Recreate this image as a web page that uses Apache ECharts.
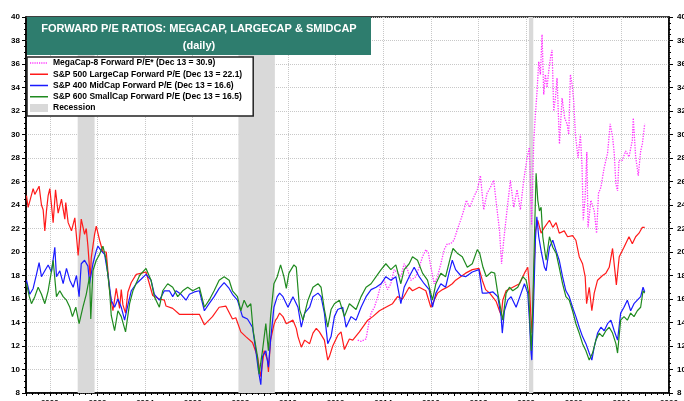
<!DOCTYPE html>
<html>
<head>
<meta charset="utf-8">
<script src="https://cdn.jsdelivr.net/npm/echarts@6/dist/echarts.min.js"></script>
<style>
  html, body { margin: 0; padding: 0; background: #fff; }
  #chart { width: 684px; height: 401px; }
</style>
</head>
<body>
<div id="chart"></div>
<script>
// [year, forward P/E]
const megacap = [
  [2012.93, 12.5], [2013.07, 12.4], [2013.28, 12.6], [2013.39, 13.9], [2013.49, 14.8], [2013.63, 15.3],
  [2013.77, 16.2], [2013.91, 17.3], [2014.04, 17.6], [2014.18, 16.8], [2014.32, 17.3], [2014.46, 18.5],
  [2014.60, 18.2], [2014.74, 17.9], [2014.88, 19.0], [2015.02, 18.5], [2015.16, 17.6], [2015.37, 17.9],
  [2015.51, 18.7], [2015.65, 19.6], [2015.79, 20.2], [2015.90, 19.9], [2016.00, 18.7], [2016.14, 17.3],
  [2016.28, 17.9], [2016.42, 19.0], [2016.56, 20.2], [2016.69, 20.7], [2016.83, 20.7], [2016.97, 21.0],
  [2017.11, 21.9], [2017.25, 22.7], [2017.39, 23.6], [2017.49, 24.4], [2017.63, 23.8], [2017.81, 24.7],
  [2017.95, 25.3], [2018.08, 26.5], [2018.22, 23.6], [2018.36, 25.0], [2018.50, 25.5], [2018.64, 26.1],
  [2018.78, 23.6], [2018.88, 21.9], [2018.97, 19.0], [2019.06, 21.0], [2019.20, 23.6], [2019.34, 26.1],
  [2019.48, 23.8], [2019.62, 25.3], [2019.76, 23.6], [2019.90, 26.1], [2020.04, 28.0], [2020.14, 28.9],
  [2020.23, 22.3], [2020.32, 29.4], [2020.39, 31.7], [2020.46, 33.7], [2020.53, 36.2], [2020.60, 35.1],
  [2020.67, 38.5], [2020.74, 33.4], [2020.81, 35.1], [2020.88, 34.0], [2020.95, 35.4], [2021.02, 36.5],
  [2021.09, 37.2], [2021.16, 32.0], [2021.23, 33.1], [2021.30, 34.8], [2021.40, 29.2], [2021.51, 33.1],
  [2021.62, 31.4], [2021.72, 30.9], [2021.79, 30.0], [2021.86, 35.1], [2021.93, 34.3], [2022.00, 32.8],
  [2022.07, 30.0], [2022.18, 28.0], [2022.28, 30.0], [2022.35, 27.2], [2022.40, 22.7], [2022.48, 24.7],
  [2022.55, 28.5], [2022.60, 22.1], [2022.72, 24.4], [2022.86, 23.5], [2022.96, 21.6], [2023.04, 25.0],
  [2023.14, 25.5], [2023.28, 27.2], [2023.42, 28.4], [2023.53, 30.9], [2023.63, 29.8], [2023.70, 28.4],
  [2023.77, 25.8], [2023.84, 25.2], [2023.90, 27.8], [2024.04, 27.8], [2024.18, 28.6], [2024.32, 28.1],
  [2024.46, 29.5], [2024.50, 31.4], [2024.60, 28.1], [2024.71, 26.5], [2024.81, 28.6], [2024.88, 29.2],
  [2024.98, 30.9]
];

const sp500 = [
  [1999.02, 24.8], [1999.09, 23.8], [1999.16, 23.9], [1999.30, 25.4], [1999.37, 24.9], [1999.44, 25.0],
  [1999.55, 25.6], [1999.65, 24.0], [1999.72, 23.6], [1999.79, 21.8], [1999.86, 23.5], [1999.93, 24.8],
  [2000.00, 25.4], [2000.07, 24.0], [2000.14, 22.5], [2000.24, 25.3], [2000.35, 23.3], [2000.49, 24.5],
  [2000.63, 22.8], [2000.67, 24.2], [2000.77, 22.5], [2000.91, 21.8], [2000.98, 21.8], [2001.05, 22.9],
  [2001.19, 19.7], [2001.32, 22.8], [2001.46, 21.5], [2001.53, 22.0], [2001.60, 20.5], [2001.70, 17.7],
  [2001.74, 19.5], [2001.88, 21.5], [2001.95, 22.2], [2002.09, 21.0], [2002.23, 20.0], [2002.37, 20.0],
  [2002.51, 16.7], [2002.65, 15.0], [2002.79, 16.9], [2002.93, 15.2], [2003.00, 16.8], [2003.07, 15.5],
  [2003.18, 14.8], [2003.28, 16.6], [2003.42, 17.4], [2003.63, 18.1], [2004.04, 18.3], [2004.32, 16.3],
  [2004.60, 16.0], [2004.81, 15.9], [2004.88, 15.4], [2005.16, 15.2], [2005.44, 14.7], [2006.00, 14.7],
  [2006.28, 14.7], [2006.49, 13.8], [2006.83, 14.5], [2007.11, 15.3], [2007.39, 15.4], [2007.67, 14.3],
  [2007.81, 14.4], [2008.02, 13.2], [2008.23, 12.8], [2008.51, 12.3], [2008.72, 11.1], [2008.79, 10.2],
  [2008.86, 9.4], [2008.93, 10.5], [2009.00, 11.6], [2009.14, 10.8], [2009.18, 9.8], [2009.27, 12.5],
  [2009.41, 13.8], [2009.48, 14.2], [2009.55, 14.4], [2009.65, 14.8], [2009.79, 14.5], [2009.93, 13.9],
  [2010.21, 14.2], [2010.35, 13.5], [2010.42, 12.8], [2010.56, 11.9], [2010.70, 12.5], [2010.91, 12.2],
  [2011.05, 13.1], [2011.19, 13.5], [2011.32, 13.2], [2011.53, 12.5], [2011.67, 10.8], [2011.74, 11.1],
  [2011.88, 12.0], [2012.09, 12.9], [2012.23, 13.2], [2012.37, 11.7], [2012.58, 12.6], [2012.72, 12.5],
  [2013.00, 13.2], [2013.35, 14.2], [2013.56, 14.5], [2013.84, 15.0], [2014.11, 15.3], [2014.39, 15.6],
  [2014.60, 16.2], [2014.81, 16.0], [2015.09, 17.0], [2015.23, 16.7], [2015.51, 17.0], [2015.79, 16.7],
  [2016.00, 15.3], [2016.14, 15.9], [2016.28, 16.5], [2016.49, 16.8], [2016.69, 17.0], [2016.90, 17.3],
  [2017.04, 17.6], [2017.25, 17.9], [2017.46, 18.2], [2017.74, 18.5], [2018.02, 18.6], [2018.16, 17.6],
  [2018.30, 16.8], [2018.47, 16.5], [2018.74, 15.8], [2018.88, 15.0], [2018.96, 14.6], [2019.02, 15.9],
  [2019.16, 16.7], [2019.44, 17.0], [2019.72, 17.3], [2019.93, 18.2], [2020.07, 18.7], [2020.14, 17.0],
  [2020.21, 14.2], [2020.25, 13.1], [2020.31, 17.0], [2020.39, 21.8], [2020.49, 22.7], [2020.63, 21.6],
  [2020.77, 22.1], [2020.98, 22.7], [2021.12, 22.1], [2021.26, 22.5], [2021.39, 21.6], [2021.60, 21.8],
  [2021.74, 21.3], [2021.95, 21.4], [2022.09, 21.0], [2022.23, 19.6], [2022.37, 19.0], [2022.48, 17.9],
  [2022.54, 15.6], [2022.65, 17.0], [2022.76, 15.0], [2022.86, 16.5], [2023.00, 17.6], [2023.21, 18.0],
  [2023.35, 18.2], [2023.49, 18.7], [2023.63, 20.3], [2023.79, 17.2], [2023.91, 19.6], [2024.11, 20.4],
  [2024.32, 21.3], [2024.46, 20.7], [2024.60, 21.3], [2024.74, 21.6], [2024.88, 22.1], [2024.98, 22.1]
];

const sp400 = [
  [1999.02, 17.6], [1999.16, 16.4], [1999.30, 16.9], [1999.44, 18.1], [1999.55, 19.1], [1999.65, 17.9],
  [1999.79, 18.4], [1999.93, 18.9], [2000.07, 18.3], [2000.21, 20.4], [2000.28, 17.9], [2000.42, 18.4],
  [2000.56, 17.3], [2000.70, 18.6], [2000.84, 17.6], [2000.98, 17.0], [2001.12, 18.0], [2001.23, 16.2],
  [2001.32, 19.0], [2001.46, 19.3], [2001.60, 18.8], [2001.67, 17.3], [2001.81, 19.0], [2001.95, 20.1],
  [2002.02, 20.5], [2002.16, 20.1], [2002.30, 19.8], [2002.44, 18.1], [2002.58, 15.9], [2002.72, 15.3],
  [2002.86, 16.0], [2003.00, 15.3], [2003.14, 14.2], [2003.28, 15.5], [2003.42, 16.7], [2003.63, 17.3],
  [2003.84, 17.7], [2004.04, 18.1], [2004.25, 17.6], [2004.39, 16.4], [2004.60, 15.9], [2004.81, 16.7],
  [2005.02, 16.7], [2005.16, 16.2], [2005.30, 16.7], [2005.51, 16.4], [2005.72, 15.9], [2005.86, 16.4],
  [2006.07, 16.6], [2006.28, 16.7], [2006.49, 15.0], [2006.69, 15.6], [2006.90, 16.2], [2007.11, 16.9],
  [2007.32, 17.4], [2007.53, 16.9], [2007.67, 16.4], [2007.88, 15.9], [2008.09, 14.5], [2008.30, 14.3],
  [2008.51, 13.6], [2008.65, 11.6], [2008.76, 9.9], [2008.86, 8.7], [2008.93, 11.1], [2009.07, 11.6],
  [2009.18, 10.2], [2009.27, 12.5], [2009.41, 15.3], [2009.55, 16.2], [2009.65, 16.5], [2009.79, 16.2],
  [2010.00, 15.3], [2010.21, 16.2], [2010.42, 15.3], [2010.56, 13.6], [2010.70, 14.8], [2010.91, 15.3],
  [2011.05, 16.2], [2011.26, 16.5], [2011.39, 16.2], [2011.53, 14.8], [2011.67, 12.2], [2011.81, 12.8],
  [2011.95, 14.5], [2012.09, 15.1], [2012.30, 15.3], [2012.44, 13.6], [2012.65, 14.5], [2012.86, 14.2],
  [2013.07, 15.3], [2013.28, 16.2], [2013.49, 16.8], [2013.70, 17.0], [2013.91, 17.3], [2014.11, 17.9],
  [2014.32, 17.6], [2014.53, 17.9], [2014.74, 15.6], [2014.88, 17.0], [2015.09, 17.9], [2015.30, 18.7],
  [2015.51, 17.9], [2015.72, 17.3], [2015.93, 16.8], [2016.07, 15.3], [2016.21, 16.5], [2016.42, 17.3],
  [2016.62, 17.0], [2016.76, 18.2], [2016.90, 19.3], [2017.04, 18.5], [2017.25, 18.0], [2017.46, 17.9],
  [2017.74, 18.3], [2018.02, 18.5], [2018.16, 16.5], [2018.33, 16.5], [2018.61, 16.6], [2018.81, 16.2],
  [2018.95, 14.5], [2019.00, 13.1], [2019.09, 15.0], [2019.23, 15.9], [2019.37, 16.2], [2019.58, 15.3],
  [2019.79, 16.5], [2019.93, 17.3], [2020.07, 16.5], [2020.14, 14.2], [2020.21, 11.4], [2020.24, 10.8],
  [2020.31, 15.3], [2020.39, 21.0], [2020.45, 23.0], [2020.53, 21.3], [2020.63, 20.1], [2020.77, 18.7],
  [2020.84, 18.4], [2020.98, 20.4], [2021.12, 21.0], [2021.26, 20.1], [2021.39, 19.3], [2021.53, 17.9],
  [2021.67, 16.7], [2021.81, 16.2], [2021.95, 15.3], [2022.09, 14.5], [2022.23, 13.6], [2022.37, 12.8],
  [2022.51, 12.2], [2022.65, 11.4], [2022.76, 10.8], [2022.86, 11.9], [2023.00, 13.1], [2023.14, 13.6],
  [2023.28, 13.3], [2023.42, 13.9], [2023.56, 14.2], [2023.70, 13.3], [2023.84, 12.5], [2023.97, 14.8],
  [2024.11, 15.3], [2024.25, 15.9], [2024.39, 15.0], [2024.53, 15.6], [2024.67, 15.9], [2024.81, 16.2],
  [2024.91, 17.0], [2024.98, 16.6]
];

const sp600 = [
  [1999.02, 17.3], [1999.14, 16.2], [1999.23, 15.6], [1999.37, 16.2], [1999.51, 17.0], [1999.65, 16.4],
  [1999.79, 15.6], [1999.93, 16.7], [2000.07, 18.4], [2000.14, 19.3], [2000.28, 16.2], [2000.42, 16.7],
  [2000.56, 16.2], [2000.70, 15.9], [2000.84, 15.3], [2000.95, 14.5], [2001.09, 15.3], [2001.23, 13.9],
  [2001.39, 15.3], [2001.53, 16.4], [2001.67, 17.9], [2001.72, 14.3], [2001.81, 18.4], [2001.95, 19.3],
  [2002.09, 19.8], [2002.23, 20.5], [2002.37, 19.3], [2002.51, 16.7], [2002.58, 14.6], [2002.72, 13.3],
  [2002.86, 15.0], [2003.00, 14.5], [2003.18, 13.2], [2003.35, 15.6], [2003.49, 16.7], [2003.77, 18.0],
  [2004.04, 18.6], [2004.25, 17.6], [2004.39, 16.2], [2004.60, 15.3], [2004.74, 16.7], [2004.95, 17.3],
  [2005.16, 17.0], [2005.37, 16.2], [2005.58, 16.7], [2005.79, 17.0], [2006.00, 16.7], [2006.28, 17.0],
  [2006.49, 15.3], [2006.69, 15.9], [2006.90, 16.7], [2007.11, 17.6], [2007.32, 17.9], [2007.53, 17.6],
  [2007.67, 16.7], [2007.88, 16.2], [2008.02, 15.0], [2008.16, 15.9], [2008.30, 15.3], [2008.44, 15.6],
  [2008.54, 13.3], [2008.72, 11.1], [2008.79, 9.6], [2008.93, 11.6], [2009.07, 13.9], [2009.18, 11.6],
  [2009.27, 14.5], [2009.41, 17.3], [2009.55, 17.9], [2009.69, 18.9], [2009.83, 17.9], [2009.93, 16.9],
  [2010.04, 18.2], [2010.25, 18.9], [2010.35, 18.7], [2010.49, 15.1], [2010.63, 14.2], [2010.84, 15.9],
  [2011.05, 17.0], [2011.26, 17.3], [2011.39, 17.0], [2011.53, 15.1], [2011.67, 13.6], [2011.81, 15.1],
  [2011.95, 15.6], [2012.16, 15.9], [2012.37, 14.5], [2012.58, 15.6], [2012.86, 15.1], [2013.07, 16.2],
  [2013.28, 17.0], [2013.49, 17.3], [2013.70, 17.9], [2013.91, 18.5], [2014.11, 19.0], [2014.32, 18.5],
  [2014.53, 18.9], [2014.74, 17.3], [2014.88, 18.5], [2015.09, 19.0], [2015.23, 19.6], [2015.44, 19.3],
  [2015.65, 18.2], [2015.86, 17.6], [2016.07, 15.9], [2016.21, 17.3], [2016.42, 18.2], [2016.62, 17.9],
  [2016.83, 19.6], [2016.93, 20.3], [2017.11, 19.9], [2017.32, 19.6], [2017.53, 18.7], [2017.74, 19.0],
  [2017.95, 20.2], [2018.05, 19.9], [2018.19, 18.7], [2018.33, 17.9], [2018.54, 18.3], [2018.68, 18.2],
  [2018.81, 16.5], [2018.95, 15.0], [2019.02, 14.2], [2019.16, 16.5], [2019.30, 17.0], [2019.44, 16.7],
  [2019.65, 17.0], [2019.86, 17.9], [2020.00, 17.6], [2020.11, 16.5], [2020.18, 13.1], [2020.22, 11.6],
  [2020.28, 15.3], [2020.35, 21.3], [2020.42, 26.7], [2020.49, 24.4], [2020.56, 23.5], [2020.63, 23.8],
  [2020.70, 21.3], [2020.84, 19.3], [2020.98, 21.3], [2021.12, 20.4], [2021.26, 19.9], [2021.39, 18.7],
  [2021.53, 17.3], [2021.67, 16.2], [2021.81, 15.9], [2021.95, 15.0], [2022.09, 13.9], [2022.23, 13.1],
  [2022.37, 12.2], [2022.51, 11.6], [2022.65, 10.8], [2022.79, 11.4], [2022.93, 12.5], [2023.07, 13.1],
  [2023.21, 12.8], [2023.35, 13.3], [2023.49, 13.6], [2023.63, 13.1], [2023.77, 12.2], [2023.84, 11.4],
  [2023.97, 14.2], [2024.11, 14.5], [2024.25, 14.2], [2024.39, 14.8], [2024.53, 14.5], [2024.67, 15.0],
  [2024.81, 15.3], [2024.91, 16.7], [2024.98, 16.5]
];

// NBER recessions, [start, end] in years
const recessions = [[2001.17, 2001.88], [2007.92, 2009.45], [2020.12, 2020.30]];

const seriesNames = [
  'MegaCap-8 Forward P/E* (Dec 13 = 30.9)',
  'S&P 500 LargeCap Forward P/E (Dec 13 = 22.1)',
  'S&P 400 MidCap Forward P/E (Dec 13 = 16.6)',
  'S&P 600 SmallCap Forward P/E (Dec 13 = 16.5)',
  'Recession'
];
const titleLines = ['FORWARD P/E RATIOS: MEGACAP, LARGECAP & SMIDCAP', '(daily)'];

const FONT = '"Liberation Sans", Arial, sans-serif';
// legend swatches: a thin bar in the middle of a 20x8 box (empty subpaths fix the box)
const LINE_ICON = 'path://M0,0L0,0ZM0,3.2L20,3.2L20,4.8L0,4.8ZM0,8L0,8Z';
const DOT_ICON = 'path://M0,0L0,0ZM0,3.3h1.3v1.4h-1.3ZM2.5,3.3h1.3v1.4h-1.3ZM5,3.3h1.3v1.4h-1.3ZM7.5,3.3h1.3v1.4h-1.3Z' +
  'M10,3.3h1.3v1.4h-1.3ZM12.5,3.3h1.3v1.4h-1.3ZM15,3.3h1.3v1.4h-1.3ZM17.5,3.3h1.3v1.4h-1.3ZM20,8L20,8Z';

const chart = echarts.init(document.getElementById('chart'));

function yAxisOpt(pos) {
  return {
    type: 'value', position: pos, min: 8, max: 40, interval: 2,
    axisLine: { show: true, lineStyle: { color: '#000', width: 1.5 } },
    axisTick: { show: true, length: 4, lineStyle: { color: '#000' } },
    minorTick: { show: true, splitNumber: 4, length: 2, lineStyle: { color: '#000' } },
    axisLabel: { margin: pos === 'left' ? 6 : 8, fontSize: 8, fontWeight: 'bold', color: '#000', fontFamily: FONT },
    splitLine: { show: pos === 'left', lineStyle: { color: '#c8c8c8', type: 'dotted', width: 1 } }
  };
}

function lineSeries(name, data, color, dotted) {
  return {
    name: name, type: 'line', data: data, symbol: 'none', showSymbol: false,
    color: color, itemStyle: { color: color },
    lineStyle: { color: color, width: dotted ? 1.3 : 1.2, type: dotted ? 'dotted' : 'solid' },
    z: 3
  };
}

const option = {
  animation: false,
  backgroundColor: '#fff',
  textStyle: { fontFamily: FONT },
  grid: {
    left: 26, right: 15, top: 17, bottom: 8, outerBoundsMode: 'none', containLabel: false,
    show: true, borderColor: '#000', borderWidth: 1.5
  },
  xAxis: {
    type: 'value', min: 1999, max: 2026, interval: 1,
    axisLine: { show: true, lineStyle: { color: '#000', width: 1.5 } },
    axisTick: { show: true, length: 3, lineStyle: { color: '#000' } },
    minorTick: { show: true, splitNumber: 4, length: 2, lineStyle: { color: '#000' } },
    axisLabel: {
      margin: 6, fontSize: 8, fontWeight: 'bold', color: '#000', fontFamily: FONT,
      formatter: v => (v % 2 === 0 ? String(v) : '')
    },
    splitLine: { show: true, lineStyle: { color: ['transparent', '#c8c8c8'], type: 'dotted', width: 1 } }
  },
  yAxis: [yAxisOpt('left'), yAxisOpt('right')],
  legend: {
    orient: 'vertical', left: 27, top: 57,
    padding: [1, 11, 3, 3], itemGap: 1.25,
    itemWidth: 18, itemHeight: 8,
    backgroundColor: '#fff', borderColor: '#222', borderWidth: 1.5,
    selectedMode: false,
    textStyle: { fontSize: 8.5, fontWeight: 'bold', color: '#000', lineHeight: 10, fontFamily: FONT },
    data: [
      { name: seriesNames[0], icon: DOT_ICON },
      { name: seriesNames[1], icon: LINE_ICON },
      { name: seriesNames[2], icon: LINE_ICON },
      { name: seriesNames[3], icon: LINE_ICON },
      { name: seriesNames[4], icon: 'rect', itemStyle: { color: '#d9d9d9' } }
    ],
    z: 10
  },
  graphic: [
    { type: 'rect', z: 100, zlevel: 1, shape: { x: 27, y: 17, width: 344, height: 38 }, style: { fill: '#2e7d6e' } },
    { type: 'text', z: 101, zlevel: 1, x: 199, y: 29, style: { text: titleLines[0], fill: '#fff', font: 'bold 11px ' + FONT, align: 'center', verticalAlign: 'middle' } },
    { type: 'text', z: 101, zlevel: 1, x: 199, y: 45.5, style: { text: titleLines[1], fill: '#fff', font: 'bold 11px ' + FONT, align: 'center', verticalAlign: 'middle' } }
  ],
  series: [
    {
      name: seriesNames[4], type: 'line', data: [], symbol: 'none',
      color: '#d9d9d9', itemStyle: { color: '#d9d9d9' }, z: 1,
      markArea: {
        silent: true,
        itemStyle: { color: '#d9d9d9', opacity: 1 },
        data: recessions.map(r => [{ xAxis: r[0] }, { xAxis: r[1] }])
      }
    },
    lineSeries(seriesNames[0], megacap, '#ff33ff', true),
    lineSeries(seriesNames[1], sp500, '#ff1a1a', false),
    lineSeries(seriesNames[2], sp400, '#1a1aff', false),
    lineSeries(seriesNames[3], sp600, '#1f8a1f', false)
  ]
};

chart.setOption(option);
</script>
</body>
</html>
